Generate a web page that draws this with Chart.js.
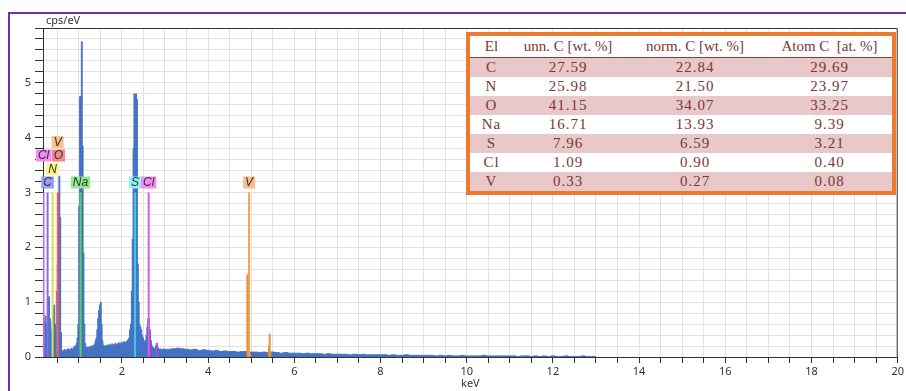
<!DOCTYPE html>
<html>
<head>
<meta charset="utf-8">
<title>EDS spectrum</title>
<script src="https://cdn.jsdelivr.net/npm/chart.js@4.4.1/dist/chart.umd.min.js"></script>
<style>
    html, body { margin: 0; padding: 0; background: #fff; }
    #wrap { position: relative; width: 906px; height: 391px; overflow: hidden; }
    #quant {
        position: absolute; left: 466px; top: 32px; width: 422px;
        border: 4px solid #ee7a30; background: #fff;
    }
    #quant table {
        border-collapse: collapse; width: 100%; table-layout: fixed;
        font-family: "Liberation Serif", serif; font-size: 15px; color: #7b3636;
    }
    #quant th {
        font-weight: normal; height: 21px; line-height: 21px; padding: 0;
        border-bottom: 1px solid #8a3c3c; white-space: pre;
    }
    #quant td { height: 19px; line-height: 19px; padding: 0; text-align: center; letter-spacing: 1px; }
    #quant tr.shade td { background: #e8c8c8; }
</style>
</head>
<body>
<div id="wrap">
    <canvas id="spectrumChart" width="906" height="391"></canvas>
    <div id="quant">
        <table>
            <colgroup><col style="width:43px"><col style="width:110px"><col style="width:144px"><col style="width:125px"></colgroup>
            <thead><tr id="quantHead"></tr></thead>
            <tbody id="quantBody"></tbody>
        </table>
    </div>
</div>
<script>
// Quantification table
const tableHeaders = ['El', 'unn. C [wt. %]', 'norm. C [wt. %]', 'Atom C  [at. %]'];
const elements = ['C', 'N', 'O', 'Na', 'S', 'Cl', 'V'];
const unnC = [27.59, 25.98, 41.15, 16.71, 7.96, 1.09, 0.33];
const normC = [22.84, 21.50, 34.07, 13.93, 6.59, 0.90, 0.27];
const atomC = [29.69, 23.97, 33.25, 9.39, 3.21, 0.40, 0.08];

// Spectrum, fine bins 0.17 - 2.99 keV (0.02 keV step)
const lowStart = 0.17;
const lowStep = 0.02;
const lowCounts = [
    0.30, 0.35, 0.65, 0.75, 0.60, 0.55, 0.65, 1.10, 0.70, 0.45,
    0.50, 0.65, 0.90, 0.95, 0.60, 0.55, 1.20, 1.70, 2.40, 3.30,
    2.55, 0.45, 0.10, 0.12, 0.10, 0.14, 0.11, 0.13, 0.12, 0.15,
    0.13, 0.14, 0.12, 0.16, 0.14, 0.15, 0.18, 0.20, 0.20, 0.25,
    0.35, 0.60, 2.75, 4.75, 4.75, 5.75, 3.85, 1.90, 0.60, 0.25,
    0.18, 0.16, 0.18, 0.15, 0.19, 0.17, 0.20, 0.18, 0.21, 0.20,
    0.24, 0.30, 0.35, 0.50, 0.70, 0.85, 0.95, 1.00, 0.60, 0.30,
    0.22, 0.20, 0.19, 0.21, 0.20, 0.22, 0.20, 0.23, 0.21, 0.22,
    0.24, 0.21, 0.23, 0.22, 0.25, 0.23, 0.24, 0.22, 0.26, 0.24,
    0.25, 0.27, 0.25, 0.26, 0.28, 0.27, 0.27, 0.28, 0.30, 0.32,
    0.35, 0.50, 0.60, 1.20, 2.15, 3.80, 4.80, 4.75, 4.80, 4.70,
    1.70, 1.00, 0.60, 0.55, 0.50, 0.40, 0.35, 0.30, 0.28, 0.30,
    0.40, 0.55, 0.70, 0.50, 0.45, 0.30, 0.22, 0.18, 0.17, 0.15,
    0.16, 0.20, 0.25, 0.18, 0.15, 0.14, 0.15, 0.13, 0.14, 0.13,
    0.15, 0.14
];

// Spectrum, coarse bins 3.1 - 13.0 keV (0.1 keV step)
const highStart = 3.1;
const highStep = 0.1;
const highCounts = [
    0.14, 0.15, 0.16, 0.15, 0.14, 0.13, 0.14, 0.12, 0.13, 0.12,
    0.11, 0.12, 0.10, 0.11, 0.10, 0.10, 0.09, 0.10, 0.10, 0.09,
    0.09, 0.08, 0.09, 0.08, 0.09, 0.08, 0.07, 0.08, 0.07, 0.07,
    0.07, 0.06, 0.07, 0.06, 0.06, 0.06, 0.05, 0.06, 0.05, 0.05,
    0.05, 0.05, 0.04, 0.05, 0.04, 0.05, 0.04, 0.04, 0.04, 0.04,
    0.04, 0.03, 0.04, 0.03, 0.03, 0.04, 0.03, 0.03, 0.03, 0.03,
    0.03, 0.03, 0.02, 0.03, 0.02, 0.03, 0.02, 0.02, 0.03, 0.02,
    0.02, 0.02, 0.02, 0.03, 0.02, 0.02, 0.02, 0.02, 0.02, 0.02,
    0.02, 0.01, 0.02, 0.02, 0.01, 0.02, 0.01, 0.02, 0.01, 0.02,
    0.01, 0.01, 0.02, 0.01, 0.01, 0.01, 0.02, 0.01, 0.01, 0.01
];

// Element-coloured peak fits
const vKaEnergies = [4.89, 4.91, 4.93, 4.95, 4.97, 4.99];
const vKaCounts = [0.06, 1.50, 1.50, 0.10, 0.06, 0];
const vKbEnergies = [5.39, 5.41, 5.43, 5.45, 5.47];
const vKbCounts = [0.05, 0.20, 0.42, 0.10, 0.04];
const clKaEnergies = [2.61, 2.63, 2.65, 2.67, 2.69];
const clKaCounts = [0.30, 0.70, 0.50, 0.30, 0.15];
const clKbEnergies = [2.79, 2.81, 2.83];
const clKbCounts = [0.10, 0.25, 0.10];

// Line markers (keV), in labelling order
const markerElements = ['C', 'N', 'O', 'Na', 'S', 'Cl', 'Cl', 'V', 'V'];
const markerEnergies = [0.277, 0.392, 0.525, 1.041, 2.307, 2.622, 0.183, 4.952, 0.511];
const markerHeight = 3.0;

// Axis ranges
const xMin = 0.17, xMax = 20, xStep = 0.5;
const yMin = 0, yMax = 6, yStep = 0.2;

const spectrumColor = '#4472c4';
const elementColors = {
    C:  { line: '#7474e8', box: '#9c9cf4' },
    N:  { line: '#e4dc4c', box: '#fbf88a' },
    O:  { line: '#e0506a', box: '#f7858f' },
    Na: { line: '#5ad05a', box: '#90ea90' },
    S:  { line: '#40c8e8', box: '#8cf0f4' },
    Cl: { line: '#d860e0', box: '#f28cf2' },
    V:  { line: '#f0a050', box: '#f9bf8c' }
};

// Build the table
document.getElementById('quantHead').innerHTML = tableHeaders.map(h => `<th>${h}</th>`).join('');
document.getElementById('quantBody').innerHTML = elements.map((el, i) => `
    <tr class="${i % 2 === 0 ? 'shade' : ''}">
        <td>${el}</td><td>${unnC[i].toFixed(2)}</td><td>${normC[i].toFixed(2)}</td><td>${atomC[i].toFixed(2)}</td>
    </tr>`).join('');

// Build the spectrum points
const spectrumPoints = [];
lowCounts.forEach((c, i) => spectrumPoints.push({ x: Math.round((lowStart + i * lowStep) * 100) / 100, y: c }));
highCounts.forEach((c, i) => spectrumPoints.push({ x: Math.round((highStart + i * highStep) * 100) / 100, y: c }));

function toPoints(energies, counts) {
    return energies.map((e, i) => ({ x: e, y: counts[i] }));
}

function peakDataset(energies, counts, color) {
    return {
        data: toPoints(energies, counts),
        borderColor: color, backgroundColor: color,
        borderWidth: 1, fill: 'origin', pointRadius: 0, stepped: 'middle', order: 2
    };
}

const datasets = [
    {
        data: spectrumPoints,
        borderColor: spectrumColor, backgroundColor: spectrumColor,
        borderWidth: 1, fill: 'origin', pointRadius: 0, stepped: 'middle', order: 3
    },
    peakDataset(vKaEnergies, vKaCounts, '#e8923a'),
    peakDataset(vKbEnergies, vKbCounts, '#e8923a'),
    peakDataset(clKaEnergies, clKaCounts, '#8d4fd6'),
    peakDataset(clKbEnergies, clKbCounts, '#b050d8')
];

markerEnergies.forEach((e, i) => {
    datasets.push({
        data: [{ x: e, y: 0 }, { x: e, y: markerHeight }],
        borderColor: elementColors[markerElements[i]].line,
        borderWidth: 2, fill: false, pointRadius: 0, order: 1
    });
});

// Element label boxes above the marker lines, stacked when they collide
const peakLabels = {
    id: 'peakLabels',
    afterDatasetsDraw(chart) {
        const { ctx, scales: { x, y } } = chart;
        ctx.save();
        ctx.font = 'italic 12px "Liberation Sans", sans-serif';
        ctx.textAlign = 'center';
        ctx.textBaseline = 'middle';
        const rows = [];
        const base = y.getPixelForValue(markerHeight) - 4;
        markerElements.forEach((el, i) => {
            const cx = x.getPixelForValue(markerEnergies[i]);
            const w = ctx.measureText(el).width + 4;
            const left = cx - w / 2, right = cx + w / 2;
            let row = 0;
            while ((rows[row] || []).some(b => left < b[1] - 1 && right > b[0] + 1)) row++;
            (rows[row] = rows[row] || []).push([left, right]);
            const bottom = base - row * 13.5;
            ctx.fillStyle = elementColors[el].box;
            ctx.fillRect(left, bottom - 12, w, 12);
            ctx.fillStyle = '#333';
            ctx.fillText(el, cx, bottom - 5.5);
        });
        ctx.restore();
    }
};

// Plot frame, outer purple border and unit label
const framePlugin = {
    id: 'frame',
    afterDraw(chart) {
        const { ctx, chartArea: a } = chart;
        ctx.save();
        ctx.strokeStyle = '#333';
        ctx.lineWidth = 1;
        ctx.beginPath();
        ctx.moveTo(a.left, a.top + 0.5);
        ctx.lineTo(a.right - 0.5, a.top + 0.5);
        ctx.lineTo(a.right - 0.5, a.bottom);
        ctx.stroke();
        ctx.strokeStyle = '#7030a0';
        ctx.lineWidth = 2;
        ctx.beginPath();
        ctx.moveTo(9, chart.height);
        ctx.lineTo(9, 13);
        ctx.lineTo(chart.width, 13);
        ctx.stroke();
        ctx.fillStyle = '#333';
        ctx.font = '11px "Noto Sans", sans-serif';
        ctx.textAlign = 'left';
        ctx.textBaseline = 'alphabetic';
        ctx.fillText('cps/eV', a.left + 3, a.top - 4);
        ctx.restore();
    }
};

const tickFont = { family: '"Noto Sans", sans-serif', size: 11 };

new Chart(document.getElementById('spectrumChart').getContext('2d'), {
    type: 'line',
    data: { datasets },
    options: {
        responsive: false,
        animation: false,
        layout: { padding: { top: 28, right: 2, left: 0, bottom: 0 } },
        plugins: { legend: { display: false }, tooltip: { enabled: false } },
        scales: {
            x: {
                type: 'linear', position: 'bottom', min: xMin, max: xMax,
                ticks: {
                    stepSize: xStep, autoSkip: false, maxRotation: 0, includeBounds: false,
                    padding: 2, color: '#333', font: tickFont,
                    callback: v => (v > 0 && Math.abs(v / 2 - Math.round(v / 2)) < 1e-6) ? String(Math.round(v)) : ''
                },
                grid: { color: '#e2e2e2', tickColor: '#333', tickLength: 6 },
                border: { color: '#333' },
                title: { display: true, text: 'keV', color: '#333', font: tickFont, padding: { top: 0, bottom: 1 } },
                afterFit: s => { s.height = 34; }
            },
            y: {
                min: yMin, max: yMax,
                ticks: {
                    stepSize: yStep, autoSkip: false, padding: 4, color: '#333', font: tickFont,
                    callback: v => {
                        const r = Math.round(v);
                        return (Math.abs(v - r) < 1e-6 && r <= 5) ? String(r) : '';
                    }
                },
                grid: { color: '#e2e2e2', tickColor: '#333', tickLength: 8 },
                border: { color: '#333' },
                afterFit: s => { s.width = 43; }
            }
        }
    },
    plugins: [peakLabels, framePlugin]
});
</script>
</body>
</html>
